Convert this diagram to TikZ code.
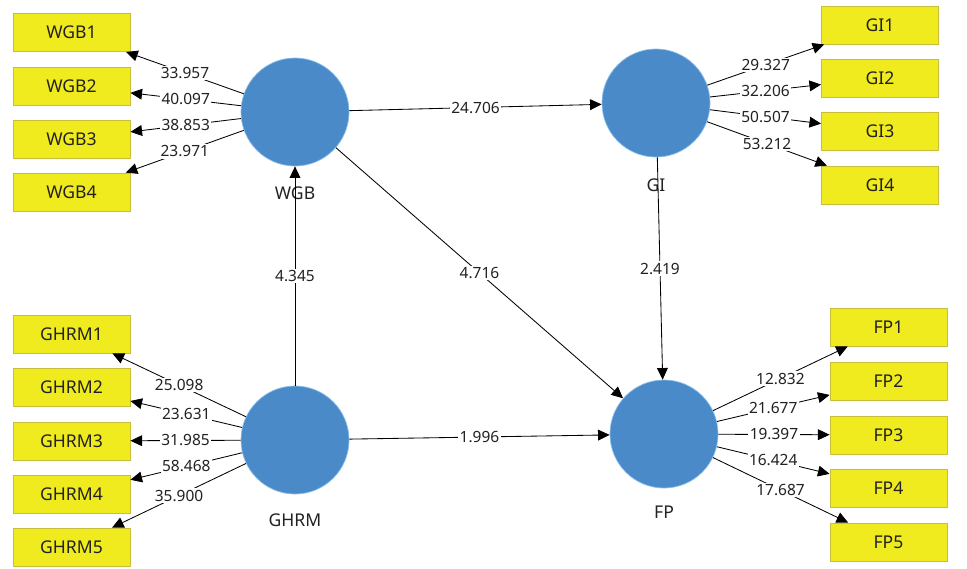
\documentclass[tikz,border=0pt]{standalone}
\usepackage{fontspec}
\setmainfont{Noto Sans}
\usetikzlibrary{arrows.meta, positioning}
\definecolor{lvblue}{HTML}{4A8AC8}
\definecolor{lvedge}{HTML}{8CC0EA}
\definecolor{mvyellow}{HTML}{F0EB1E}
\definecolor{mvedge}{HTML}{C8BE3C}
\definecolor{txtgray}{HTML}{222222}

\begin{document}
\begin{tikzpicture}[
    x=0.025cm, y=-0.025cm,
    every node/.style={font=\fontsize{11}{13}\selectfont, text=txtgray},
    latent/.style={circle, fill=lvblue, draw=lvedge, line width=0.5pt, minimum size=2.7cm, inner sep=0pt},
    lvlabel/.style={font=\fontsize{12.5}{15}\selectfont},
    indicator/.style={rectangle, fill=mvyellow, draw=mvedge, line width=0.6pt, minimum width=2.925cm, minimum height=0.95cm, inner sep=0pt, font=\fontsize{12.5}{15}\selectfont},
    link/.style={-{Triangle[length=2.9mm, width=2.7mm]}, line width=0.6pt, draw=black},
    coef/.style={fill=white, inner sep=1pt}
]
    \useasboundingbox (0,0) rectangle (967,568);

    % Latent variables
    \node[latent] (wgb) at (295,112) {};
    \node[latent] (gi) at (656,103) {};
    \node[latent] (ghrm) at (295,440) {};
    \node[latent] (fp) at (664,434) {};

    % Latent names
    \node[lvlabel] (wgbname) at (295,193) {WGB};
    \node[lvlabel] (giname) at (656,185) {GI};
    \node[lvlabel] (ghrmname) at (295,520) {GHRM};
    \node[lvlabel] (fpname) at (664,512) {FP};

    % WGB indicators
    \node[indicator] (wgb1) at (71.5,32.5) {WGB1};
    \node[indicator] (wgb2) at (71.5,86) {WGB2};
    \node[indicator] (wgb3) at (71.5,139) {WGB3};
    \node[indicator] (wgb4) at (71.5,192) {WGB4};

    % GI indicators
    \node[indicator] (gi1) at (880,25) {GI1};
    \node[indicator] (gi2) at (880,78) {GI2};
    \node[indicator] (gi3) at (880,131) {GI3};
    \node[indicator] (gi4) at (880,185) {GI4};

    % GHRM indicators
    \node[indicator] (ghrm1) at (71.5,334) {GHRM1};
    \node[indicator] (ghrm2) at (71.5,387) {GHRM2};
    \node[indicator] (ghrm3) at (71.5,441) {GHRM3};
    \node[indicator] (ghrm4) at (71.5,494) {GHRM4};
    \node[indicator] (ghrm5) at (71.5,547) {GHRM5};

    % FP indicators
    \node[indicator] (fp1) at (888.5,327) {FP1};
    \node[indicator] (fp2) at (888.5,381) {FP2};
    \node[indicator] (fp3) at (888.5,435) {FP3};
    \node[indicator] (fp4) at (888.5,488) {FP4};
    \node[indicator] (fp5) at (888.5,542) {FP5};

    % Outer loadings
    \draw[link] (wgb) -- node[coef] {33.957} (wgb1);
    \draw[link] (wgb) -- node[coef] {40.097} (wgb2);
    \draw[link] (wgb) -- node[coef] {38.853} (wgb3);
    \draw[link] (wgb) -- node[coef] {23.971} (wgb4);

    \draw[link] (gi) -- node[coef] {29.327} (gi1);
    \draw[link] (gi) -- node[coef] {32.206} (gi2);
    \draw[link] (gi) -- node[coef] {50.507} (gi3);
    \draw[link] (gi) -- node[coef] {53.212} (gi4);

    \draw[link] (ghrm) -- node[coef] {25.098} (ghrm1);
    \draw[link] (ghrm) -- node[coef] {23.631} (ghrm2);
    \draw[link] (ghrm) -- node[coef] {31.985} (ghrm3);
    \draw[link] (ghrm) -- node[coef] {58.468} (ghrm4);
    \draw[link] (ghrm) -- node[coef] {35.900} (ghrm5);

    \draw[link] (fp) -- node[coef] {12.832} (fp1);
    \draw[link] (fp) -- node[coef] {21.677} (fp2);
    \draw[link] (fp) -- node[coef] {19.397} (fp3);
    \draw[link] (fp) -- node[coef] {16.424} (fp4);
    \draw[link] (fp) -- node[coef] {17.687} (fp5);

    % Structural paths
    \draw[link] (wgb) -- node[coef] {24.706} (gi);
    \draw[link] (wgb) -- node[coef] {4.716} (fp);
    \draw[link] (gi) -- node[coef] {2.419} (fp);
    \draw[link] (ghrm) -- node[coef] {4.345} (wgb);
    \draw[link] (ghrm) -- node[coef] {1.996} (fp);
\end{tikzpicture}
\end{document}
